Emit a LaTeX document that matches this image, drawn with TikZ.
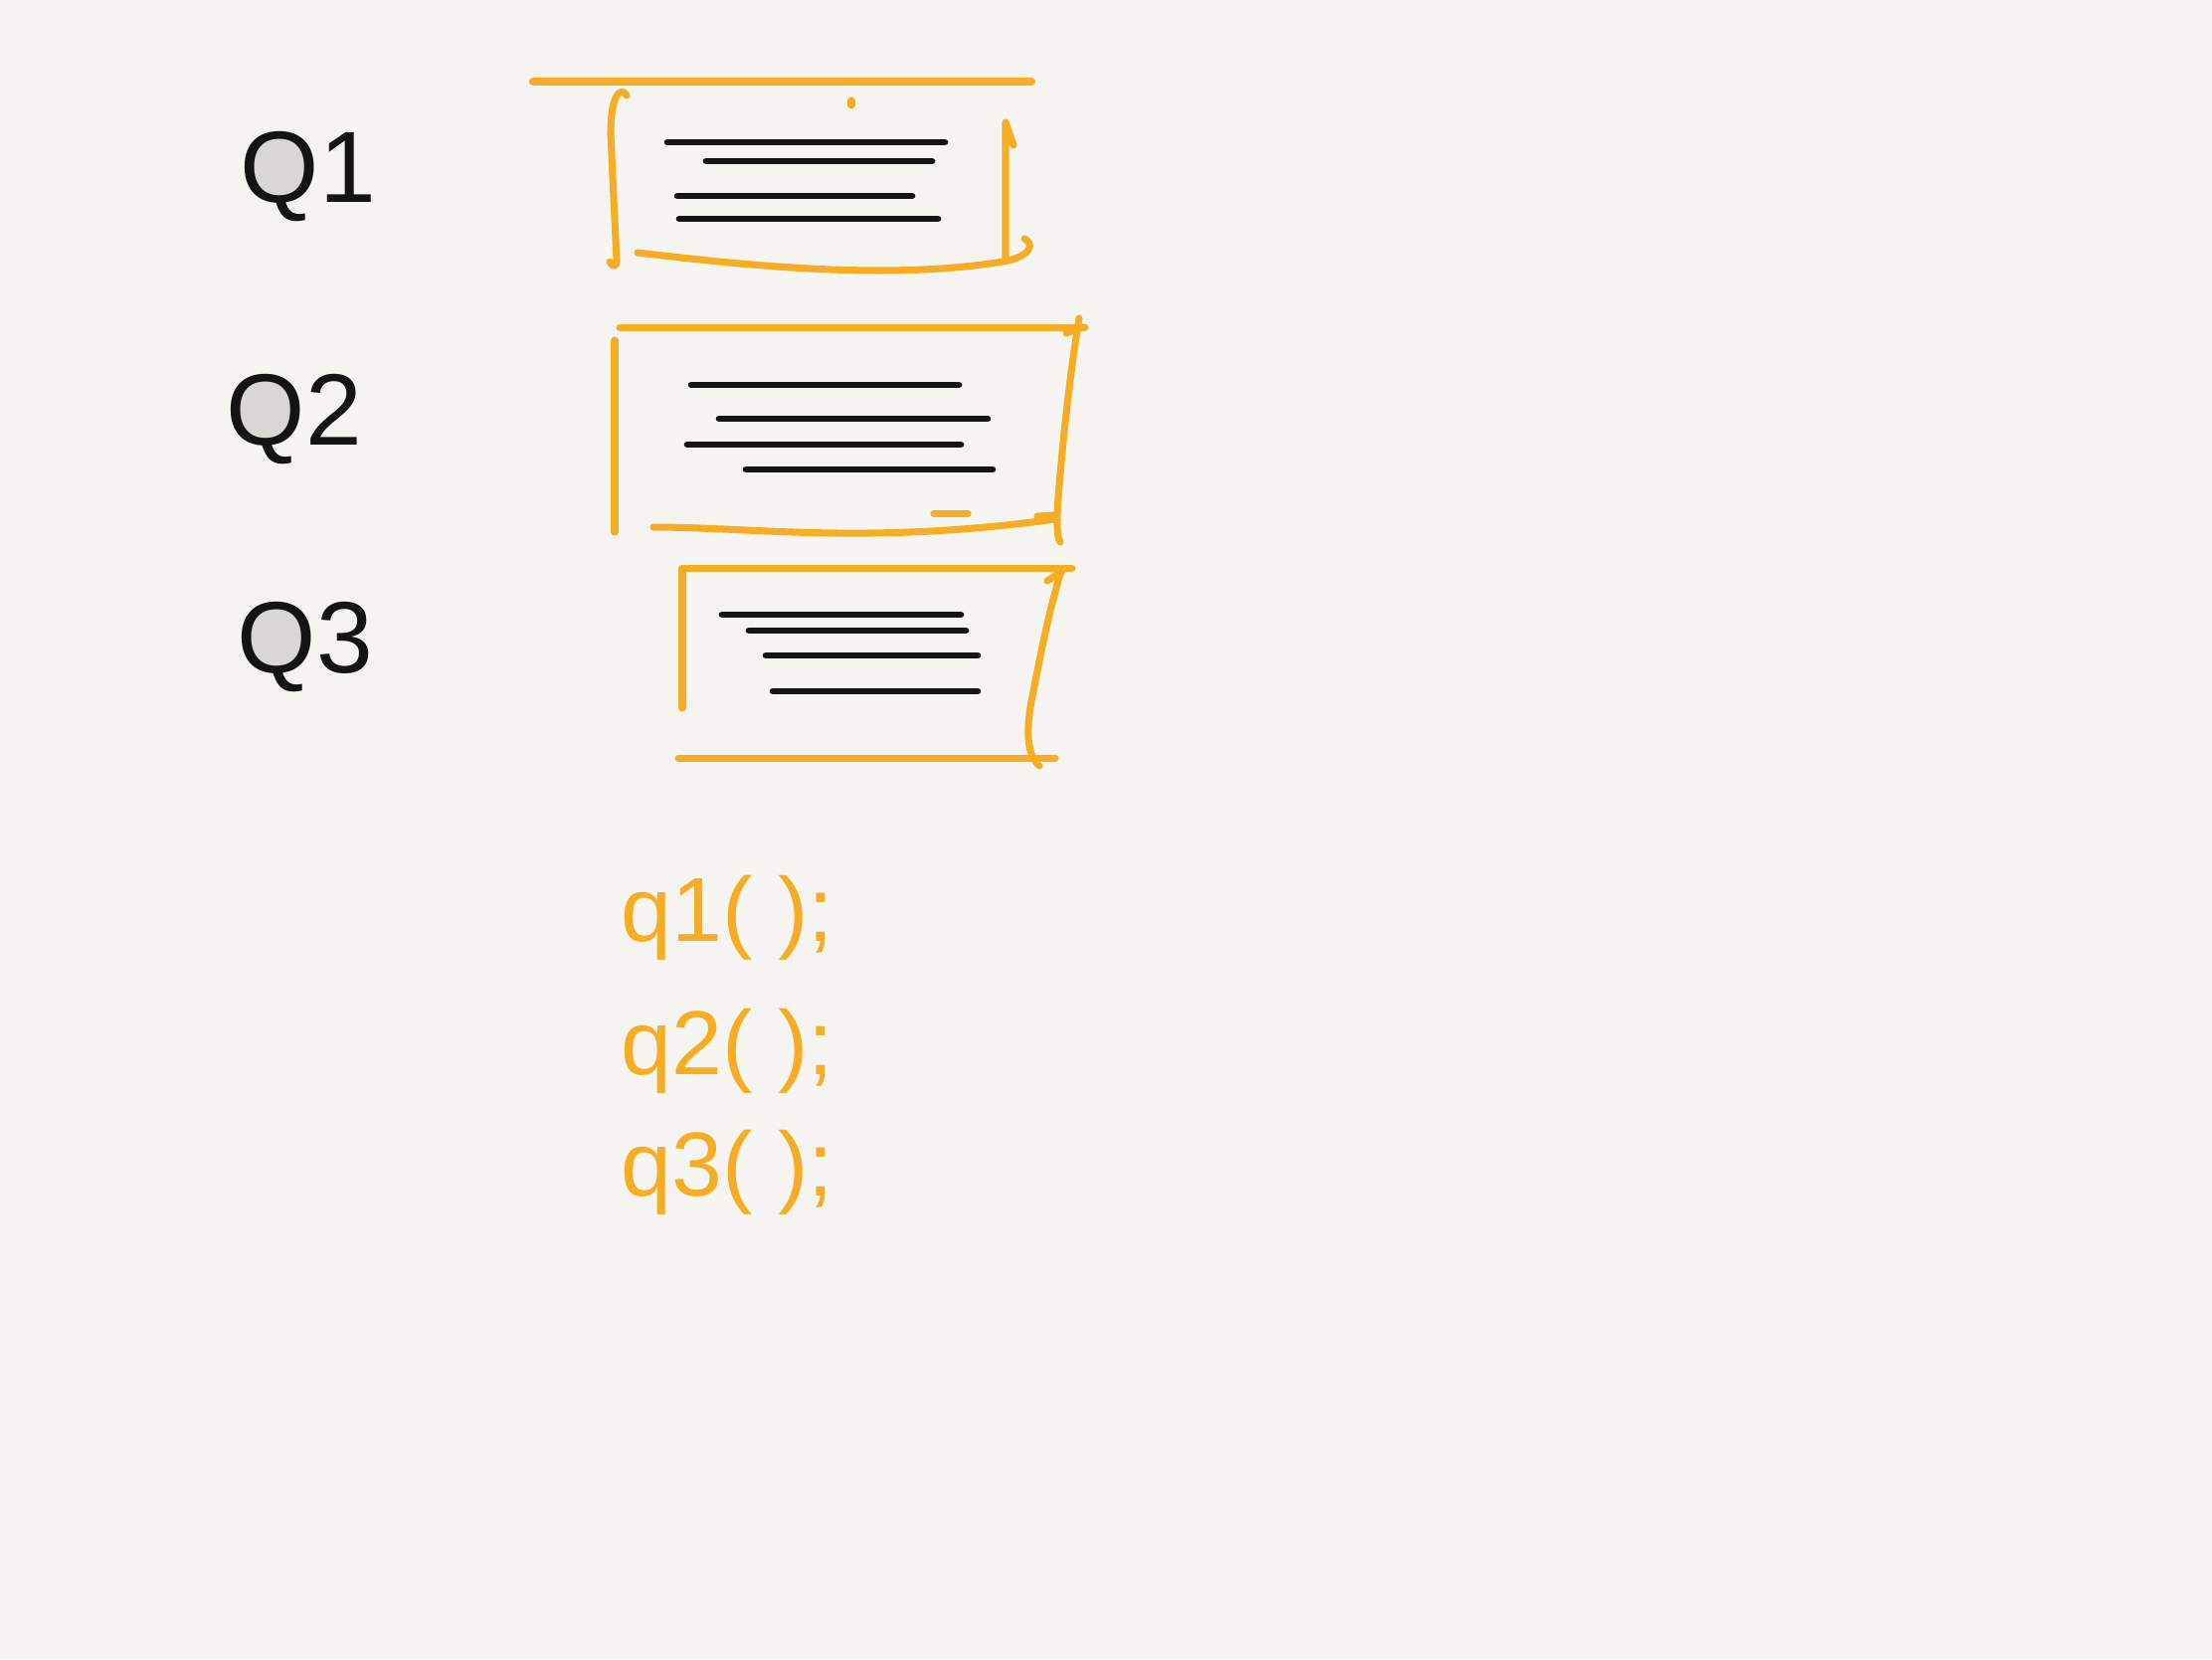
\documentclass[tikz,border=0pt]{standalone}
\usepackage{fontspec}
\setmainfont{Liberation Sans}
\usepackage{xcolor}
\usepackage{tikz}
\usetikzlibrary{arrows,positioning,calc}
\definecolor{paperwhite}{RGB}{245,244,240}
\definecolor{markerorange}{RGB}{246,173,36}
\definecolor{inkblack}{RGB}{20,20,20}
\definecolor{bowlgray}{RGB}{216,215,211}

\begin{document}
\begin{tikzpicture}[x=0.01cm,y=-0.01cm,
    frame/.style={markerorange,line width=2pt,line cap=round,line join=round},
    textline/.style={inkblack,line width=1.9pt,line cap=round},
    qlabel/.style={inkblack,font=\fontsize{29}{31}\selectfont,anchor=base west,inner sep=0pt},
    callcode/.style={markerorange,font=\fontsize{26}{28}\selectfont,anchor=base west,inner sep=0pt}]
    \fill[paperwhite] (0,0) rectangle (2224,1668);
    \useasboundingbox (0,0) rectangle (2224,1668);

    \coordinate (q1pos) at (241,203);
    \coordinate (q2pos) at (227,447);
    \coordinate (q3pos) at (238,676);
    \foreach \q in {q1pos,q2pos,q3pos}
        \fill[bowlgray] ($(\q)+(39,-36)$) ellipse (8.8pt and 9.8pt);
    \node[qlabel] (q1) at (q1pos) {Q1};
    \node[qlabel] (q2) at (q2pos) {Q2};
    \node[qlabel] (q3) at (q3pos) {Q3};

    \draw[frame,line width=2.4pt] (536,82) -- (1037,82);
    \draw[frame] (630,96) .. controls (626,88) and (614,90) .. (614,135) -- (620,262) .. controls (620,270) and (615,268) .. (613,263);
    \draw[frame] (1011,262) -- (1011,123) -- (1019,146);
    \draw[frame] (641,254) .. controls (760,268) and (900,282) .. (1014,262) .. controls (1040,255) and (1038,244) .. (1030,240);
    \draw[frame] (856,101) -- (856,106);
    \draw[textline] (671,143) -- (950,143);
    \draw[textline] (710,162) -- (937,162);
    \draw[textline] (681,197) -- (917,197);
    \draw[textline] (683,220) -- (943,220);

    \draw[frame] (623,329) -- (1091,329);
    \draw[frame] (1072,335) -- (1089,329);
    \draw[frame] (618,342) -- (618,535);
    \draw[frame] (1085,320) .. controls (1075,380) and (1068,450) .. (1064,500) .. controls (1062,530) and (1063,540) .. (1066,545);
    \draw[frame] (657,530) .. controls (760,530) and (870,548) .. (1061,522);
    \draw[frame] (1043,519) -- (1059,518);
    \draw[frame] (939,516) -- (973,516);
    \draw[textline] (695,387) -- (964,387);
    \draw[textline] (723,421) -- (993,421);
    \draw[textline] (691,447) -- (966,447);
    \draw[textline] (750,472) -- (998,472);

    \draw[frame] (686,712) -- (686,571) -- (1078,571);
    \draw[frame] (1053,584) -- (1068,574);
    \draw[frame] (1066,577) .. controls (1052,625) and (1045,665) .. (1038,700) .. controls (1030,740) and (1034,760) .. (1045,770);
    \draw[frame] (682,762) -- (1061,762);
    \draw[textline] (726,618) -- (966,618);
    \draw[textline] (753,634) -- (971,634);
    \draw[textline] (770,659) -- (983,659);
    \draw[textline] (777,695) -- (983,695);

    \node[callcode] (call1) at (624,946) {q1( );};
    \node[callcode] (call2) at (624,1080) {q2( );};
    \node[callcode] (call3) at (624,1202) {q3( );};
\end{tikzpicture}
\end{document}
